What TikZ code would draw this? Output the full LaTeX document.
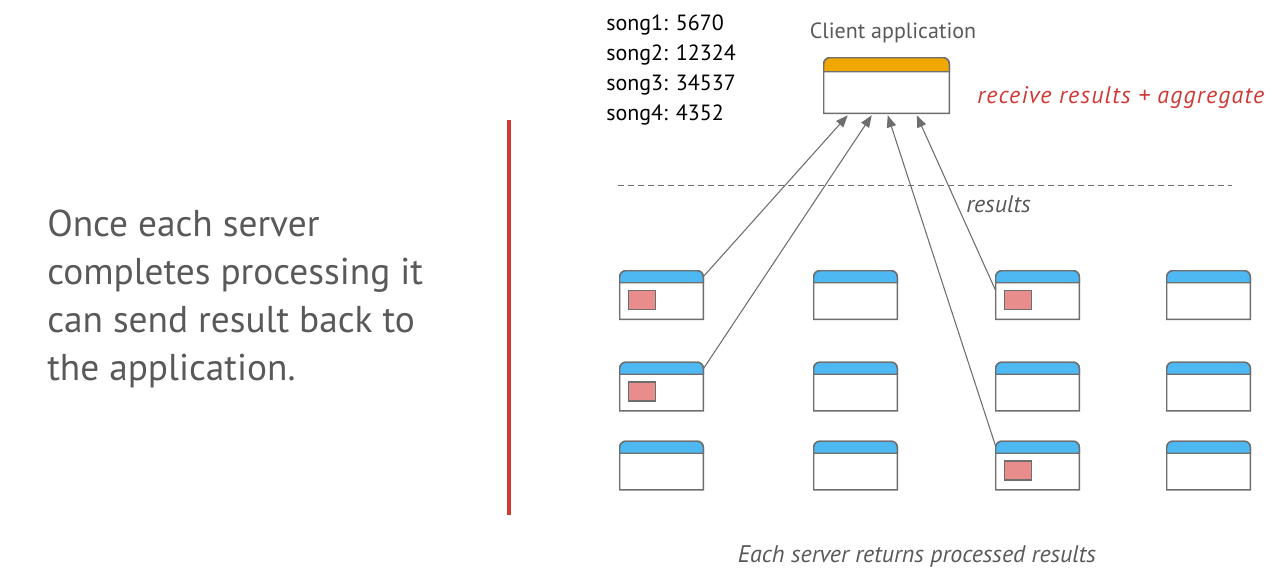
\documentclass[tikz,border=0pt]{standalone}
\usepackage{fontspec}
\setmainfont{PT Sans}
\usetikzlibrary{arrows.meta}

\definecolor{txtgray}{HTML}{595959}
\definecolor{linegray}{HTML}{6E6E6E}
\definecolor{srvblue}{HTML}{4DB8F2}
\definecolor{appgold}{HTML}{F0A800}
\definecolor{jobred}{HTML}{E88C8C}
\definecolor{markred}{HTML}{CF3A35}

\tikzstyle{server}=[minimum width=62.25pt,minimum height=36pt,inner sep=0pt]
\tikzstyle{client}=[minimum width=93.75pt,minimum height=41.25pt,inner sep=0pt]
\tikzstyle{outline}=[draw=linegray,line width=1.1pt,fill=white]
\tikzstyle{job}=[draw=linegray,line width=1.1pt,fill=jobred,minimum width=20.25pt,minimum height=14.25pt,inner sep=0pt,anchor=north west]
\tikzstyle{result}=[draw,linegray,line width=0.8pt,-{Triangle[length=9pt,width=7pt]}]
\tikzstyle{lead}=[font=\fontsize{28}{36}\selectfont,text=txtgray,anchor=base west,inner sep=0pt]
\tikzstyle{score}=[font=\fontsize{16.5}{22}\selectfont,anchor=base west,inner sep=0pt]
\tikzstyle{note}=[font=\fontsize{18}{22}\selectfont\itshape,text=txtgray,inner sep=0pt]

\begin{document}
\begin{tikzpicture}[x=0.75pt,y=-0.75pt]
    \useasboundingbox (0,0) rectangle (1281,579);
    % The text on the left and the divider
    \foreach \n/\y/\line in {1/236/Once each server, 2/284/completes processing it, 3/332/can send result back to, 4/380/the application.}
        \node[lead] (lead\n) at (47,\y) {\line};
    \coordinate (divtop) at (509,120);
    \coordinate (divbot) at (509,515);
    \draw[markred,line width=3pt] (divtop) -- (divbot);

    % Aggregated counts
    \foreach \n/\y/\val in {1/30/5670, 2/60/12324, 3/90/34537, 4/120/4352}
        \node[score] (song\n) at (606,\y) {song\n: \val};

    % Client application box
    \node[client] (app) at (886.5,85.5) {};
    \draw[outline] (app.south east) -- (app.south west) [rounded corners=4.5pt] -- (app.north west) -- (app.north east) [sharp corners] -- cycle;
    \fill[appgold] ([yshift=-10.5pt]app.north east) -- ([yshift=-10.5pt]app.north west) [rounded corners=4.5pt] -- (app.north west) -- (app.north east) [sharp corners] -- cycle;
    \draw[linegray,line width=1.1pt] ([yshift=-10.5pt]app.north east) -- ([yshift=-10.5pt]app.north west) [rounded corners=4.5pt] -- (app.north west) -- (app.north east) [sharp corners] -- cycle;
    \node[font=\fontsize{16.5}{22}\selectfont,text=txtgray,anchor=base,inner sep=0pt] (apptitle) at (893,38) {Client application};
    \node[note,text=markred,anchor=base west,font=\fontsize{18}{22}\selectfont\itshape\addfontfeatures{LetterSpace=5}] (aggr) at (977,103) {receive results + aggregate};

    % Boundary between the client and the servers
    \coordinate (cutl) at (618,185);
    \coordinate (cutr) at (1232,185);
    \draw[linegray,line width=0.7pt,dash pattern=on 4.5pt off 3pt] (cutl) -- (cutr);
    \node[note,anchor=base west] (reslabel) at (966,212) {results};

    % Then the servers
    \foreach \c/\x in {1/661.5, 2/855.5, 3/1037.5, 4/1208.5}
        \foreach \r/\y in {1/295, 2/386.5, 3/465.5}
        {
            \node[server] (s\c\r) at (\x,\y) {};
            \draw[outline] (s\c\r.south east) -- (s\c\r.south west) [rounded corners=4.5pt] -- (s\c\r.north west) -- (s\c\r.north east) [sharp corners] -- cycle;
            \fill[srvblue] ([yshift=-9pt]s\c\r.north east) -- ([yshift=-9pt]s\c\r.north west) [rounded corners=4.5pt] -- (s\c\r.north west) -- (s\c\r.north east) [sharp corners] -- cycle;
            \draw[linegray,line width=1.1pt] ([yshift=-9pt]s\c\r.north east) -- ([yshift=-9pt]s\c\r.north west) [rounded corners=4.5pt] -- (s\c\r.north west) -- (s\c\r.north east) [sharp corners] -- cycle;
        }
    % Servers that hold a finished job
    \foreach \s in {s11, s12, s31, s33}
        \node[job] (job\s) at ([xshift=6pt,yshift=-14.25pt]\s.north west) {};

    % Results travel back to the client
    \path[result] ([yshift=-4.5pt]s11.north east) -- ([xshift=18pt,yshift=-1.5pt]app.south west);
    \path[result] ([yshift=-5pt]s12.north east) -- ([xshift=36pt,yshift=-1.5pt]app.south west);
    \path[result] ([yshift=-4pt]s33.north west) -- ([xshift=48pt,yshift=-1.5pt]app.south west);
    \path[result] ([yshift=-15pt]s31.north west) -- ([xshift=69.75pt,yshift=-1.5pt]app.south west);

    \node[note,anchor=base] (caption) at (917,562) {Each server returns processed results};
\end{tikzpicture}
\end{document}
